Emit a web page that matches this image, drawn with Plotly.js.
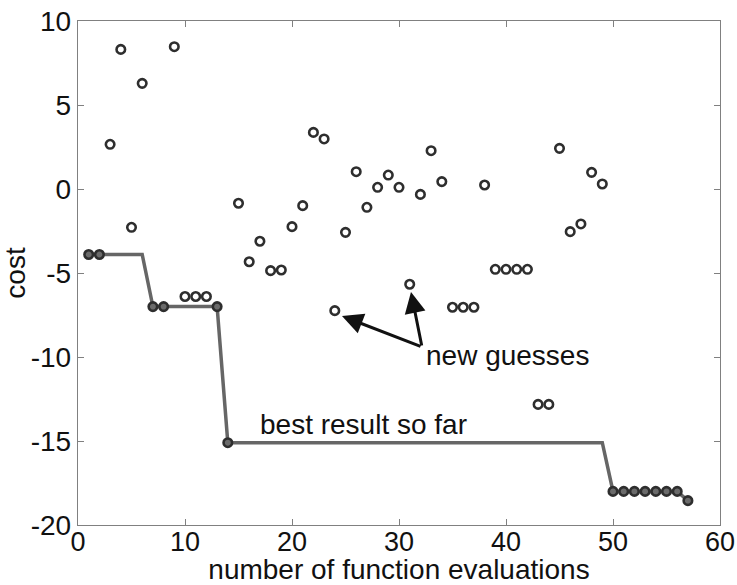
<!DOCTYPE html>
<html>
<head>
<meta charset="utf-8">
<script src="https://cdn.plot.ly/plotly-3.0.1.min.js"></script>
<style>html,body{margin:0;padding:0;background:#fff;}#chart{width:737px;height:585px;}</style>
</head>
<body>
<div id="chart"></div>
<script>
// evaluation number
var evals = [1,2,3,4,5,6,7,8,9,10,11,12,13,14,15,16,17,18,19,20,21,22,23,24,25,26,27,28,29,30,31,32,33,34,35,36,37,38,39,40,41,42,43,44,45,46,47,48,49,50,51,52,53,54,55,56,57];
// cost of each new guess
var cost = [-3.9,-3.9,2.66,8.31,-2.28,6.29,-7.0,-7.0,8.47,-6.4,-6.4,-6.4,-7.0,-15.1,-0.85,-4.33,-3.11,-4.86,-4.82,-2.24,-0.99,3.37,2.98,-7.24,-2.58,1.03,-1.09,0.1,0.83,0.1,-5.67,-0.32,2.28,0.44,-7.04,-7.04,-7.04,0.24,-4.78,-4.78,-4.78,-4.78,-12.82,-12.82,2.42,-2.54,-2.08,0.99,0.3,-18.0,-18.0,-18.0,-18.0,-18.0,-18.0,-18.0,-18.55];
// best result so far
var best = [-3.9,-3.9,-3.9,-3.9,-3.9,-3.9,-7.0,-7.0,-7.0,-7.0,-7.0,-7.0,-7.0,-15.1,-15.1,-15.1,-15.1,-15.1,-15.1,-15.1,-15.1,-15.1,-15.1,-15.1,-15.1,-15.1,-15.1,-15.1,-15.1,-15.1,-15.1,-15.1,-15.1,-15.1,-15.1,-15.1,-15.1,-15.1,-15.1,-15.1,-15.1,-15.1,-15.1,-15.1,-15.1,-15.1,-15.1,-15.1,-15.1,-18.0,-18.0,-18.0,-18.0,-18.0,-18.0,-18.0,-18.55];

var xTicks = [0,10,20,30,40,50,60];
var yTicks = [-20,-15,-10,-5,0,5,10];

var markerFill = cost.map(function(c,i){ return c === best[i] ? '#6b6b6b' : '#ffffff'; });

var FONT = 'Liberation Sans, Arial, Helvetica, sans-serif';
var TXT = '#111111';

var traces = [
  {x: evals, y: best, mode: 'lines', type: 'scatter',
   line: {color: '#666666', width: 3.5}, hoverinfo: 'skip'},
  {x: evals, y: cost, mode: 'markers', type: 'scatter',
   marker: {symbol: 'circle', size: 8.5, color: markerFill, line: {color: '#2e2e2e', width: 2.6}}}
];

var layout = {
  width: 737, height: 585,
  margin: {l: 78, r: 17, t: 21, b: 60},
  paper_bgcolor: '#ffffff', plot_bgcolor: '#ffffff',
  showlegend: false,
  font: {family: FONT, size: 28, color: TXT},
  xaxis: {
    range: [0, 60], tickvals: xTicks, ticktext: xTicks.map(String),
    showgrid: false, zeroline: false, showline: true, mirror: 'ticks',
    linecolor: '#808080', linewidth: 1.2, ticks: 'inside', ticklen: 6, tickcolor: '#808080',
    ticklabelstandoff: -8,
    tickfont: {family: FONT, size: 27, color: TXT},
    title: {text: 'number of function evaluations', font: {family: FONT, size: 28, color: TXT}, standoff: 0}
  },
  yaxis: {
    range: [-20, 10], tickvals: yTicks, ticktext: yTicks.map(String),
    showgrid: false, zeroline: false, showline: true, mirror: 'ticks',
    linecolor: '#808080', linewidth: 1.2, ticks: 'inside', ticklen: 6, tickcolor: '#808080',
    tickfont: {family: FONT, size: 28, color: TXT},
    title: {text: 'cost', font: {family: FONT, size: 28, color: TXT}, standoff: 0}
  },
  annotations: [
    {x: 24.67, y: -7.56, ax: 32.15, ay: -9.4, axref: 'x', ayref: 'y', xref: 'x', yref: 'y',
     text: '', showarrow: true, arrowhead: 2, arrowsize: 1.4, arrowwidth: 3, arrowcolor: '#111'},
    {x: 31.12, y: -6.13, ax: 32.15, ay: -9.4, axref: 'x', ayref: 'y', xref: 'x', yref: 'y',
     text: '', showarrow: true, arrowhead: 2, arrowsize: 1.4, arrowwidth: 3, arrowcolor: '#111'},
    {x: 32.3, y: -9.9, xref: 'x', yref: 'y', text: 'new guesses', showarrow: false,
     xanchor: 'left', yanchor: 'middle', font: {family: FONT, size: 28, color: TXT}},
    {x: 16.8, y: -14.0, xref: 'x', yref: 'y', text: 'best result so far', showarrow: false,
     xanchor: 'left', yanchor: 'middle', font: {family: FONT, size: 28, color: TXT}}
  ]
};

Plotly.newPlot('chart', traces, layout, {displayModeBar: false, staticPlot: true});
</script>
</body>
</html>
